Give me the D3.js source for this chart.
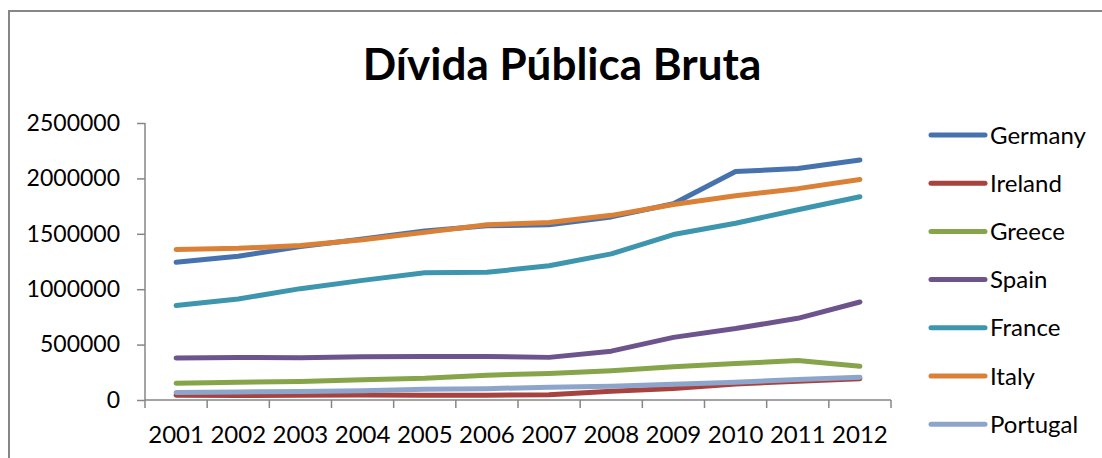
<!DOCTYPE html>
<html>
<head>
<meta charset="utf-8">
<script src="https://cdnjs.cloudflare.com/ajax/libs/d3/7.8.5/d3.min.js"></script>
<style>
  body { margin: 0; background: #fff; }
  svg text { font-family: Lato, "Open Sans", sans-serif; fill: #000; }
</style>
</head>
<body>
<div id="chart"></div>
<script>
// chart data
var years = ["2001", "2002", "2003", "2004", "2005", "2006", "2007", "2008", "2009", "2010", "2011", "2012"];
var countries = ["Germany", "Ireland", "Greece", "Spain", "France", "Italy", "Portugal"];
var germany = [1243300, 1298000, 1384400, 1453400, 1524400, 1571700, 1582500, 1652500, 1770600, 2061800, 2088500, 2166300];
var ireland = [41900, 41000, 43300, 44300, 44000, 43900, 47400, 79600, 104500, 144200, 169300, 192500];
var greece = [151900, 159200, 168000, 183200, 195400, 224200, 239300, 263300, 299700, 329500, 355900, 304700];
var spain = [378900, 384100, 382300, 389900, 393500, 392200, 384700, 440600, 565100, 644700, 737400, 884400];
var france = [853300, 912000, 1004900, 1079500, 1147600, 1152200, 1211600, 1318600, 1493400, 1595000, 1717300, 1833800];
var italy = [1358300, 1368500, 1394200, 1446000, 1512800, 1582000, 1602100, 1666600, 1763900, 1843000, 1907500, 1989400];
var portugal = [67400, 72700, 77200, 83300, 96400, 102400, 115600, 123100, 141100, 161300, 185200, 204500];
var yTicks = [0, 500000, 1000000, 1500000, 2000000, 2500000];
var colors = ["#4672ae", "#a8423f", "#86a44a", "#6e548d", "#3d96ae", "#da8137", "#8ea5cb"];

var series = [germany, ireland, greece, spain, france, italy, portugal];

var svgWidth = 1102;
var svgHeight = 458;

var margin = {
    top: 123,
    left: 145,
    right: 211,
    bottom: 58
};

var width = svgWidth - margin.left - margin.right;
var height = svgHeight - margin.top - margin.bottom;

var svg = d3.select("#chart").append("svg")
    .attr("width", svgWidth)
    .attr("height", svgHeight);

// outer frame (only left and top edges are visible)
svg.append("path")
    .attr("d", "M9,458 L9,11 L1102,11")
    .attr("fill", "none")
    .attr("stroke", "#868686")
    .attr("stroke-width", 2);

// title
svg.append("text")
    .attr("x", 562)
    .attr("y", 80)
    .attr("text-anchor", "middle")
    .style("font-size", "44px")
    .style("font-weight", "bold")
    .text("Dívida Pública Bruta");

var chartGroup = svg.append("g")
    .attr("transform", `translate(${margin.left}, ${margin.top})`);

var xScale = d3.scaleBand()
    .domain(years)
    .range([0, width]);

var yScale = d3.scaleLinear()
    .domain([0, 2500000])
    .range([height, 0]);

// y axis
var leftAxis = d3.axisLeft(yScale)
    .tickValues(yTicks)
    .tickSize(8)
    .tickPadding(17)
    .tickFormat(d3.format("d"));

var yAxis = chartGroup.append("g").call(leftAxis);

// x axis with ticks at category boundaries
var bottomAxis = d3.axisBottom(xScale)
    .tickSize(0)
    .tickPadding(26);

var xAxis = chartGroup.append("g")
    .attr("transform", `translate(0, ${height})`)
    .call(bottomAxis);

xAxis.selectAll(".bnd")
    .data(d3.range(years.length + 1))
    .enter().append("line")
    .attr("class", "bnd")
    .attr("x1", i => i * xScale.step())
    .attr("x2", i => i * xScale.step())
    .attr("y1", 0)
    .attr("y2", 8);

svg.selectAll(".domain, .tick line, .bnd")
    .attr("stroke", "#868686")
    .attr("stroke-width", 1.5);
yAxis.selectAll(".tick text")
    .style("font-size", "23px")
    .attr("fill", "#000");
xAxis.selectAll(".tick text")
    .style("font-size", "24px")
    .attr("fill", "#000");
xAxis.select(".domain").attr("d", `M0,0H${width}`);
yAxis.select(".domain").attr("d", `M0,0V${height}`);

// lines
var line = d3.line()
    .x((d, i) => xScale(years[i]) + xScale.bandwidth() / 2)
    .y(d => yScale(d));

chartGroup.selectAll(".series")
    .data(series)
    .enter().append("path")
    .attr("class", "series")
    .attr("d", d => line(d))
    .attr("fill", "none")
    .attr("stroke", (d, i) => colors[i])
    .attr("stroke-width", 5)
    .attr("stroke-linecap", "round")
    .attr("stroke-linejoin", "round");

// legend
var legend = svg.append("g")
    .attr("transform", "translate(931, 135)");

var item = legend.selectAll(".item")
    .data(countries)
    .enter().append("g")
    .attr("transform", (d, i) => `translate(0, ${i * 48.2})`);

item.append("line")
    .attr("x1", 0)
    .attr("x2", 54)
    .attr("stroke", (d, i) => colors[i])
    .attr("stroke-width", 5)
    .attr("stroke-linecap", "round");

item.append("text")
    .attr("x", 59)
    .attr("y", 8.5)
    .style("font-size", "24px")
    .text(d => d);
</script>
</body>
</html>
